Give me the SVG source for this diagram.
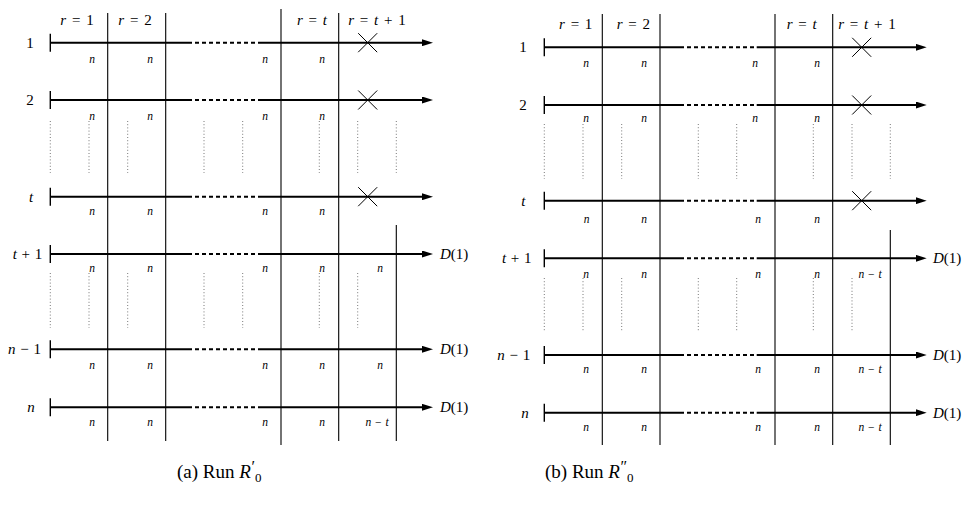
<svg xmlns="http://www.w3.org/2000/svg" width="968" height="519" viewBox="0 0 968 519">
<style>
.proc{stroke:#000;stroke-width:2;fill:none}
.dash{stroke:#000;stroke-width:2;stroke-dasharray:4 3;fill:none}
.vert{stroke:#000;stroke-width:1.1}
.dot{stroke:#555;stroke-width:0.8;stroke-dasharray:1 2.2}
.tick{stroke:#000;stroke-width:1.4}
.cross{stroke:#000;stroke-width:1;fill:none}
text{font-family:"Liberation Serif","Times New Roman",serif;fill:#000}
.n{font-size:11.5px;font-style:italic;text-anchor:middle;word-spacing:1px}
.rl{font-size:15px;text-anchor:middle;word-spacing:1px}
.rr{font-size:15px;text-anchor:middle;word-spacing:2px}
.d{font-size:15px}
.v{font-style:italic}
.cap{font-size:19px}
</style>
<defs>
<marker id="ah" markerUnits="userSpaceOnUse" markerWidth="11" markerHeight="7" refX="1" refY="3.5" orient="auto">
<path d="M0,0 L11,3.5 L0,7 z" fill="#000"/>
</marker>
</defs>

<g id="panel-a">
<g id="a-verticals">
<line class="vert" x1="107.7" y1="13" x2="107.7" y2="441"/>
<line class="vert" x1="165.7" y1="13" x2="165.7" y2="441"/>
<line class="vert" x1="281" y1="9" x2="281" y2="445"/>
<line class="vert" x1="338.7" y1="13" x2="338.7" y2="441"/>
<line class="vert" x1="396.3" y1="225" x2="396.3" y2="441"/>
</g>
<g id="a-dots">
<line class="dot" x1="50.3" y1="121" x2="50.3" y2="173"/>
<line class="dot" x1="89" y1="121" x2="89" y2="173"/>
<line class="dot" x1="127.7" y1="121" x2="127.7" y2="173"/>
<line class="dot" x1="204" y1="121" x2="204" y2="173"/>
<line class="dot" x1="242.7" y1="121" x2="242.7" y2="173"/>
<line class="dot" x1="319.3" y1="121" x2="319.3" y2="173"/>
<line class="dot" x1="357.7" y1="121" x2="357.7" y2="173"/>
<line class="dot" x1="396.3" y1="121" x2="396.3" y2="173"/>
<line class="dot" x1="50.3" y1="273" x2="50.3" y2="328"/>
<line class="dot" x1="89" y1="273" x2="89" y2="328"/>
<line class="dot" x1="127.7" y1="273" x2="127.7" y2="328"/>
<line class="dot" x1="204" y1="273" x2="204" y2="328"/>
<line class="dot" x1="242.7" y1="273" x2="242.7" y2="328"/>
<line class="dot" x1="319.3" y1="273" x2="319.3" y2="328"/>
<line class="dot" x1="357.7" y1="273" x2="357.7" y2="328"/>
</g>
<g id="a-rounds">
<text class="rr" x="77" y="25"><tspan class="v">r</tspan> = 1</text>
<text class="rr" x="135" y="25"><tspan class="v">r</tspan> = 2</text>
<text class="rr" x="312" y="25"><tspan class="v">r</tspan> = <tspan class="v">t</tspan></text>
<text class="rr" x="377" y="25"><tspan class="v">r</tspan> = <tspan class="v">t</tspan> + 1</text>
</g>
<g id="a-row1">
<text class="rl" x="30" y="47.7">1</text>
<line class="tick" x1="50.3" y1="33.7" x2="50.3" y2="51.7"/>
<line class="proc" x1="50.3" y1="42.7" x2="188" y2="42.7"/>
<line class="dash" x1="188" y1="42.7" x2="262" y2="42.7"/>
<line class="proc" x1="262" y1="42.7" x2="423" y2="42.7" marker-end="url(#ah)"/>
<path class="cross" d="M358.2,33.2 L377.2,52.2 M358.2,52.2 L377.2,33.2"/>
<text class="n" x="92" y="62.5">n</text><text class="n" x="150" y="62.5">n</text><text class="n" x="265" y="62.5">n</text><text class="n" x="322" y="62.5">n</text>
</g>
<g id="a-row2">
<text class="rl" x="30" y="105">2</text>
<line class="tick" x1="50.3" y1="91" x2="50.3" y2="109"/>
<line class="proc" x1="50.3" y1="100" x2="188" y2="100"/>
<line class="dash" x1="188" y1="100" x2="262" y2="100"/>
<line class="proc" x1="262" y1="100" x2="423" y2="100" marker-end="url(#ah)"/>
<path class="cross" d="M358.2,90.5 L377.2,109.5 M358.2,109.5 L377.2,90.5"/>
<text class="n" x="92" y="120">n</text><text class="n" x="150" y="120">n</text><text class="n" x="265" y="120">n</text><text class="n" x="322" y="120">n</text>
</g>
<g id="a-rowt">
<text class="rl" x="31" y="201.7"><tspan class="v">t</tspan></text>
<line class="tick" x1="50.3" y1="187.7" x2="50.3" y2="205.7"/>
<line class="proc" x1="50.3" y1="196.7" x2="188" y2="196.7"/>
<line class="dash" x1="188" y1="196.7" x2="262" y2="196.7"/>
<line class="proc" x1="262" y1="196.7" x2="423" y2="196.7" marker-end="url(#ah)"/>
<path class="cross" d="M358.2,187.2 L377.2,206.2 M358.2,206.2 L377.2,187.2"/>
<text class="n" x="92" y="215.2">n</text><text class="n" x="150" y="215.2">n</text><text class="n" x="265" y="215.2">n</text><text class="n" x="322" y="215.2">n</text>
</g>
<g id="a-rowt1">
<text class="rl" x="27.5" y="259"><tspan class="v">t</tspan> + 1</text>
<line class="tick" x1="50.3" y1="245" x2="50.3" y2="263"/>
<line class="proc" x1="50.3" y1="254" x2="188" y2="254"/>
<line class="dash" x1="188" y1="254" x2="262" y2="254"/>
<line class="proc" x1="262" y1="254" x2="423" y2="254" marker-end="url(#ah)"/>
<text class="d" x="440" y="259"><tspan class="v">D</tspan>(1)</text>
<text class="n" x="92" y="271.8">n</text><text class="n" x="150" y="271.8">n</text><text class="n" x="265" y="271.8">n</text><text class="n" x="322" y="271.8">n</text><text class="n" x="380" y="271.8">n</text>
</g>
<g id="a-rown1">
<text class="rl" x="24.5" y="354.3"><tspan class="v">n</tspan> − 1</text>
<line class="tick" x1="50.3" y1="340.3" x2="50.3" y2="358.3"/>
<line class="proc" x1="50.3" y1="349.3" x2="188" y2="349.3"/>
<line class="dash" x1="188" y1="349.3" x2="262" y2="349.3"/>
<line class="proc" x1="262" y1="349.3" x2="423" y2="349.3" marker-end="url(#ah)"/>
<text class="d" x="440" y="354.3"><tspan class="v">D</tspan>(1)</text>
<text class="n" x="92" y="368.5">n</text><text class="n" x="150" y="368.5">n</text><text class="n" x="265" y="368.5">n</text><text class="n" x="322" y="368.5">n</text><text class="n" x="380" y="368.5">n</text>
</g>
<g id="a-rown">
<text class="rl" x="31" y="412.3"><tspan class="v">n</tspan></text>
<line class="tick" x1="50.3" y1="398.3" x2="50.3" y2="416.3"/>
<line class="proc" x1="50.3" y1="407.3" x2="188" y2="407.3"/>
<line class="dash" x1="188" y1="407.3" x2="262" y2="407.3"/>
<line class="proc" x1="262" y1="407.3" x2="423" y2="407.3" marker-end="url(#ah)"/>
<text class="d" x="440" y="412.3"><tspan class="v">D</tspan>(1)</text>
<text class="n" x="92" y="425.8">n</text><text class="n" x="150" y="425.8">n</text><text class="n" x="265" y="425.8">n</text><text class="n" x="322" y="425.8">n</text><text class="n" x="377" y="425.8">n <tspan font-style="normal">−</tspan> t</text>
</g>
<text id="cap-a" class="cap" x="177" y="478">(a) Run <tspan class="v">R</tspan><tspan font-size="16" dx="0.5" dy="-6">′</tspan><tspan font-size="13" dy="10">0</tspan></text>
</g>

<g id="panel-b">
<g id="b-verticals">
<line class="vert" x1="602.3" y1="14" x2="602.3" y2="445"/>
<line class="vert" x1="660" y1="14" x2="660" y2="445"/>
<line class="vert" x1="775" y1="14" x2="775" y2="445"/>
<line class="vert" x1="832.7" y1="14" x2="832.7" y2="445"/>
<line class="vert" x1="890.3" y1="230" x2="890.3" y2="445"/>
</g>
<g id="b-dots">
<line class="dot" x1="544.3" y1="124" x2="544.3" y2="179"/>
<line class="dot" x1="583" y1="124" x2="583" y2="179"/>
<line class="dot" x1="621.7" y1="124" x2="621.7" y2="179"/>
<line class="dot" x1="698.3" y1="124" x2="698.3" y2="179"/>
<line class="dot" x1="736.7" y1="124" x2="736.7" y2="179"/>
<line class="dot" x1="813.3" y1="124" x2="813.3" y2="179"/>
<line class="dot" x1="852" y1="124" x2="852" y2="179"/>
<line class="dot" x1="890.3" y1="124" x2="890.3" y2="179"/>
<line class="dot" x1="544.3" y1="278" x2="544.3" y2="332"/>
<line class="dot" x1="583" y1="278" x2="583" y2="332"/>
<line class="dot" x1="621.7" y1="278" x2="621.7" y2="332"/>
<line class="dot" x1="698.3" y1="278" x2="698.3" y2="332"/>
<line class="dot" x1="736.7" y1="278" x2="736.7" y2="332"/>
<line class="dot" x1="813.3" y1="278" x2="813.3" y2="332"/>
<line class="dot" x1="852" y1="278" x2="852" y2="332"/>
</g>
<g id="b-rounds">
<text class="rr" x="575.7" y="28.5"><tspan class="v">r</tspan> = 1</text>
<text class="rr" x="633.3" y="28.5"><tspan class="v">r</tspan> = 2</text>
<text class="rr" x="801.7" y="28.5"><tspan class="v">r</tspan> = <tspan class="v">t</tspan></text>
<text class="rr" x="867" y="28.5"><tspan class="v">r</tspan> = <tspan class="v">t</tspan> + 1</text>
</g>
<g id="b-row1">
<text class="rl" x="523" y="52.3">1</text>
<line class="tick" x1="544.3" y1="38.3" x2="544.3" y2="56.3"/>
<line class="proc" x1="544.3" y1="47.3" x2="680" y2="47.3"/>
<line class="dash" x1="680" y1="47.3" x2="756.7" y2="47.3"/>
<line class="proc" x1="756.7" y1="47.3" x2="916.7" y2="47.3" marker-end="url(#ah)"/>
<path class="cross" d="M852.2,37.8 L871.2,56.8 M852.2,56.8 L871.2,37.8"/>
<text class="n" x="586" y="66.5">n</text><text class="n" x="644" y="66.5">n</text><text class="n" x="755" y="66.5">n</text><text class="n" x="817" y="66.5">n</text>
</g>
<g id="b-row2">
<text class="rl" x="523" y="110">2</text>
<line class="tick" x1="544.3" y1="96" x2="544.3" y2="114"/>
<line class="proc" x1="544.3" y1="105" x2="680" y2="105"/>
<line class="dash" x1="680" y1="105" x2="756.7" y2="105"/>
<line class="proc" x1="756.7" y1="105" x2="916.7" y2="105" marker-end="url(#ah)"/>
<path class="cross" d="M852.2,95.5 L871.2,114.5 M852.2,114.5 L871.2,95.5"/>
<text class="n" x="586" y="122">n</text><text class="n" x="644" y="122">n</text><text class="n" x="755" y="122">n</text><text class="n" x="817" y="122">n</text>
</g>
<g id="b-rowt">
<text class="rl" x="523.3" y="205.7"><tspan class="v">t</tspan></text>
<line class="tick" x1="544.3" y1="191.7" x2="544.3" y2="209.7"/>
<line class="proc" x1="544.3" y1="200.7" x2="680" y2="200.7"/>
<line class="dash" x1="680" y1="200.7" x2="756.7" y2="200.7"/>
<line class="proc" x1="756.7" y1="200.7" x2="916.7" y2="200.7" marker-end="url(#ah)"/>
<path class="cross" d="M852.2,191.2 L871.2,210.2 M852.2,210.2 L871.2,191.2"/>
<text class="n" x="586.5" y="222.5">n</text><text class="n" x="644" y="222.5">n</text><text class="n" x="758" y="222.5">n</text><text class="n" x="817" y="222.5">n</text>
</g>
<g id="b-rowt1">
<text class="rl" x="516.7" y="263.3"><tspan class="v">t</tspan> + 1</text>
<line class="tick" x1="544.3" y1="249.3" x2="544.3" y2="267.3"/>
<line class="proc" x1="544.3" y1="258.3" x2="680" y2="258.3"/>
<line class="dash" x1="680" y1="258.3" x2="756.7" y2="258.3"/>
<line class="proc" x1="756.7" y1="258.3" x2="916.7" y2="258.3" marker-end="url(#ah)"/>
<text class="d" x="933" y="263.3"><tspan class="v">D</tspan>(1)</text>
<text class="n" x="586" y="277.5">n</text><text class="n" x="644" y="277.5">n</text><text class="n" x="758" y="277.5">n</text><text class="n" x="817" y="277.5">n</text><text class="n" x="870" y="277.5">n <tspan font-style="normal">−</tspan> t</text>
</g>
<g id="b-rown1">
<text class="rl" x="513.7" y="360"><tspan class="v">n</tspan> − 1</text>
<line class="tick" x1="544.3" y1="346" x2="544.3" y2="364"/>
<line class="proc" x1="544.3" y1="355" x2="680" y2="355"/>
<line class="dash" x1="680" y1="355" x2="756.7" y2="355"/>
<line class="proc" x1="756.7" y1="355" x2="916.7" y2="355" marker-end="url(#ah)"/>
<text class="d" x="933" y="360"><tspan class="v">D</tspan>(1)</text>
<text class="n" x="586" y="373.2">n</text><text class="n" x="644" y="373.2">n</text><text class="n" x="758" y="373.2">n</text><text class="n" x="817" y="373.2">n</text><text class="n" x="870" y="373.2">n <tspan font-style="normal">−</tspan> t</text>
</g>
<g id="b-rown">
<text class="rl" x="525" y="417.7"><tspan class="v">n</tspan></text>
<line class="tick" x1="544.3" y1="403.7" x2="544.3" y2="421.7"/>
<line class="proc" x1="544.3" y1="412.7" x2="680" y2="412.7"/>
<line class="dash" x1="680" y1="412.7" x2="756.7" y2="412.7"/>
<line class="proc" x1="756.7" y1="412.7" x2="916.7" y2="412.7" marker-end="url(#ah)"/>
<text class="d" x="933" y="417.7"><tspan class="v">D</tspan>(1)</text>
<text class="n" x="586" y="430.8">n</text><text class="n" x="644" y="430.8">n</text><text class="n" x="758" y="430.8">n</text><text class="n" x="817" y="430.8">n</text><text class="n" x="870" y="430.8">n <tspan font-style="normal">−</tspan> t</text>
</g>
<text id="cap-b" class="cap" x="545" y="478">(b) Run <tspan class="v">R</tspan><tspan font-size="16" dx="0.5" dy="-6">″</tspan><tspan font-size="13" dy="10">0</tspan></text>
</g>
</svg>
